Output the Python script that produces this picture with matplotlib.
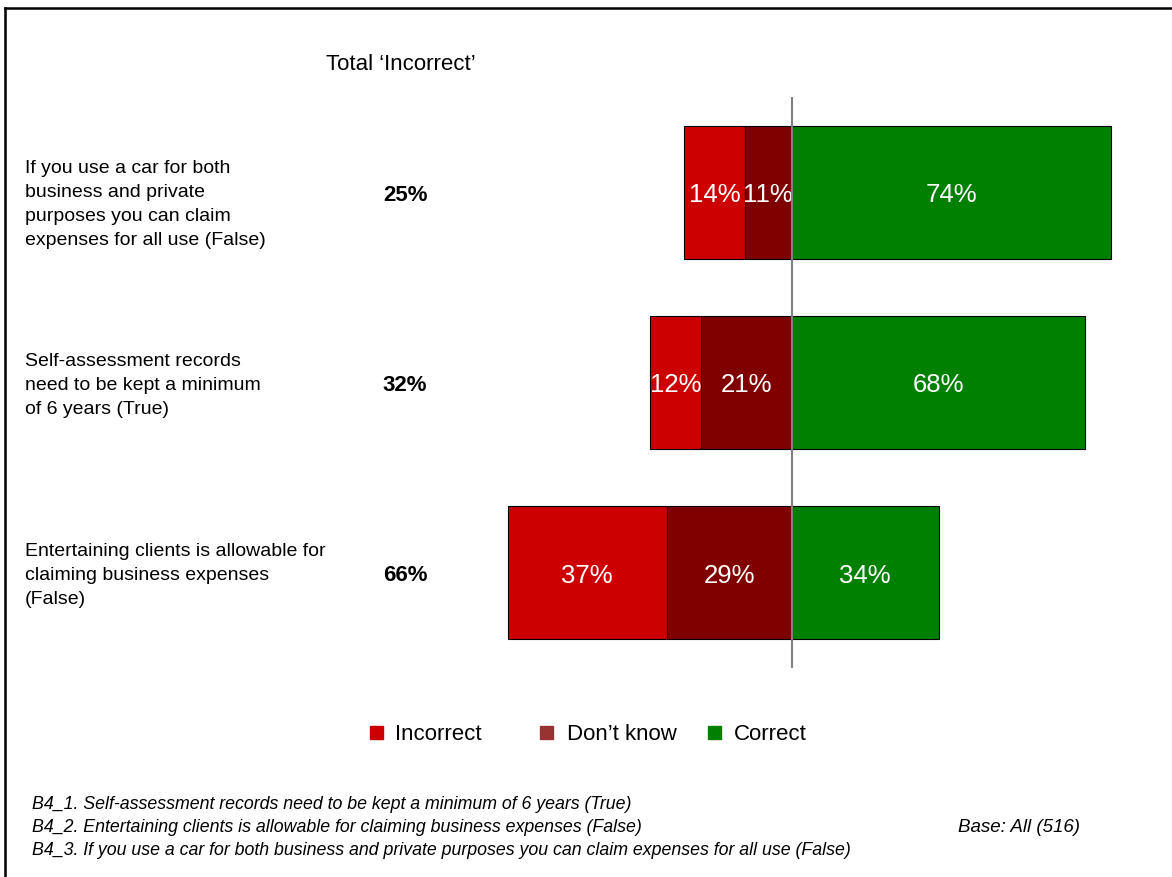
import matplotlib.pyplot as plt
from matplotlib.patches import Rectangle
from matplotlib.lines import Line2D

plt.rcParams['font.family'] = ['Liberation Sans', 'DejaVu Sans']

questions = ["If you use a car for both\nbusiness and private\npurposes you can claim\nexpenses for all use (False)",
             "Self-assessment records\nneed to be kept a minimum\nof 6 years (True)",
             "Entertaining clients is allowable for\nclaiming business expenses\n(False)"]
incorrect = [14, 12, 37]
dont_know = [11, 21, 29]
correct = [74, 68, 34]
total_incorrect = [25, 32, 66]
series_names = ["Incorrect", "Don\u2019t know", "Correct"]
footnotes = ["B4_1. Self-assessment records need to be kept a minimum of 6 years (True)",
             "B4_2. Entertaining clients is allowable for claiming business expenses (False)",
             "B4_3. If you use a car for both business and private purposes you can claim expenses for all use (False)"]
base_note = "Base: All (516)"

c_inc = "#cc0000"
c_dk = "#800000"
c_cor = "#008000"

W, H = 1172, 878
fig = plt.figure(figsize=(W / 100, H / 100), dpi=100)
ax = fig.add_axes([447.2 / W, (H - 669) / H, 689.6 / W, 571 / H])
ax.set_xlim(-80, 80)
ax.set_ylim(2.5, -0.5)
ax.axis("off")

px = 4.31  # pixels per percent
ys = list(range(len(questions)))
for i in ys:
    inc, dk, cor = incorrect[i], dont_know[i], correct[i]
    ax.barh(i, inc, left=-(inc + dk), height=0.7, color=c_inc, edgecolor="black", linewidth=0.8)
    ax.barh(i, dk, left=-dk, height=0.7, color=c_dk, edgecolor="black", linewidth=0.8)
    ax.barh(i, cor, left=0, height=0.7, color=c_cor, edgecolor="black", linewidth=0.8)
    for val, mid in [(inc, -dk - inc / 2), (dk, -dk / 2), (cor, cor / 2)]:
        ax.text(mid, i + 0.01, f"{val}%", color="white", fontsize=18.5, ha="center", va="center")

ax.axvline(0, color="#808080", lw=1.5, zorder=5)

# left-hand labels and total column
for i in ys:
    yy = i + (0.06 if i == 0 else 0.01)
    ax.text(-80 - (447.2 - 25) / px, yy, questions[i], fontsize=14, ha="left", va="center",
            linespacing=1.52)
    ax.text(-80 - (447.2 - 405) / px, i + 0.01, f"{total_incorrect[i]}%", fontsize=16,
            fontweight="bold", ha="center", va="center")

fig.text(401 / W, 1 - 65 / H, "Total \u2018Incorrect\u2019", fontsize=16, ha="center", va="center")

# legend
leg_x = [(370, 395), (540, 567), (708, 734)]
leg_c = [c_inc, "#993333", c_cor]
for (mx, tx), col, name in zip(leg_x, leg_c, series_names):
    fig.add_artist(Rectangle((mx / W, 1 - 740 / H), 13 / W, 13 / H, color=col, transform=fig.transFigure))
    fig.text(tx / W, 1 - 735 / H, name, fontsize=16, ha="left", va="center")

# footnotes
for k, note in enumerate(footnotes):
    fig.text(32 / W, 1 - (805 + 23 * k) / H, note, fontsize=12.75, style="italic", ha="left", va="center")
fig.text(958 / W, 1 - 828 / H, base_note, fontsize=13.5, style="italic", ha="left", va="center")

# frame lines
fig.add_artist(Line2D([5 / W, 1], [1 - 9 / H, 1 - 9 / H], color="black", lw=1.8, transform=fig.transFigure))
fig.add_artist(Line2D([5 / W, 5 / W], [0, 1 - 9 / H], color="black", lw=1.8, transform=fig.transFigure))

fig.savefig("out.png", dpi=100)
